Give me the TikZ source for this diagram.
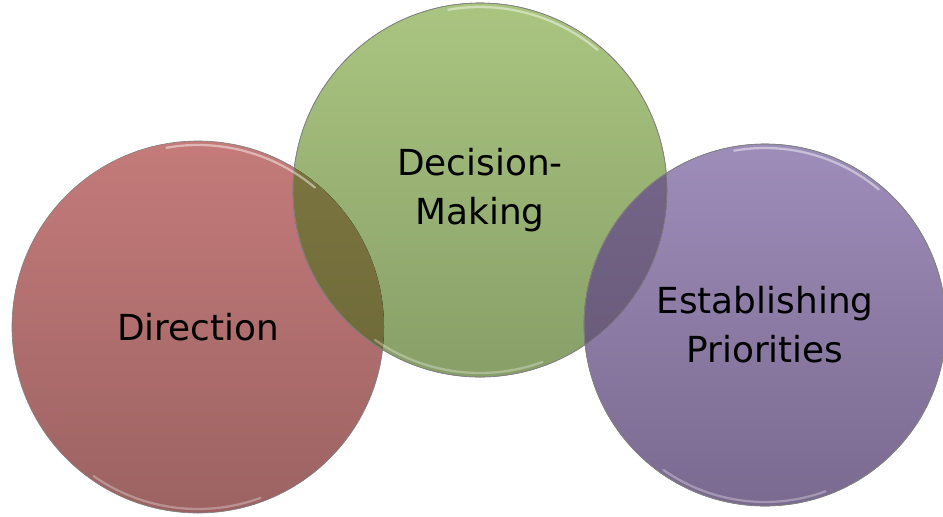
\documentclass[tikz,border=0pt]{standalone}
\usepackage{fontspec}
\setmainfont{DejaVu Sans}
\definecolor{redtop}{HTML}{C47B7A}
\definecolor{redbot}{HTML}{9C6262}
\definecolor{greentop}{HTML}{AAC580}
\definecolor{greenbot}{HTML}{889F68}
\definecolor{purpletop}{HTML}{9D8DB9}
\definecolor{purplebot}{HTML}{7A6A90}
\definecolor{olivetop}{HTML}{837C45}
\definecolor{olivebot}{HTML}{6E6A38}
\definecolor{plumtop}{HTML}{75668A}
\definecolor{plumbot}{HTML}{62546F}
\tikzset{
  ring/.style={circle, draw=black!50, line width=0.35pt, align=center,
    font=\fontsize{20.4}{27.8}\selectfont, inner sep=0pt},
  gloss/.style={white, opacity=0.45, line width=1.3pt, line cap=round}
}
\begin{document}
\begin{tikzpicture}
  \useasboundingbox (0,0) rectangle (18.86,10.32);

  \node[ring, minimum size=7.44cm, top color=redtop, bottom color=redbot]
    (dir) at (3.96,3.78) {Direction};
  \node[ring, minimum size=7.48cm, top color=greentop, bottom color=greenbot]
    (dec) at (9.6,6.52) {Decision-\\Making};
  \node[ring, minimum size=7.24cm, top color=purpletop, bottom color=purplebot]
    (est) at (15.3,3.82) {Establishing\\Priorities};

  % overlaps
  \begin{scope}
    \clip (dir.center) circle (3.72);
    \fill[top color=olivetop, bottom color=olivebot, draw=black!50]
      (dec.center) circle (3.74);
  \end{scope}
  \begin{scope}
    \clip (dec.center) circle (3.74);
    \fill[top color=plumtop, bottom color=plumbot, draw=black!50]
      (est.center) circle (3.62);
  \end{scope}
  \draw[black!50, line width=0.35pt] (dec.center) circle (3.74);
  \draw[black!50, line width=0.35pt] (est.center) circle (3.62);

  % highlights
  \foreach \c/\r in {dir/3.64, dec/3.66, est/3.54}{
    \draw[gloss] (\c.center) ++(50:\r) arc (50:100:\r);
    \draw[gloss, opacity=0.3] (\c.center) ++(235:\r) arc (235:290:\r);
  }
\end{tikzpicture}
\end{document}
